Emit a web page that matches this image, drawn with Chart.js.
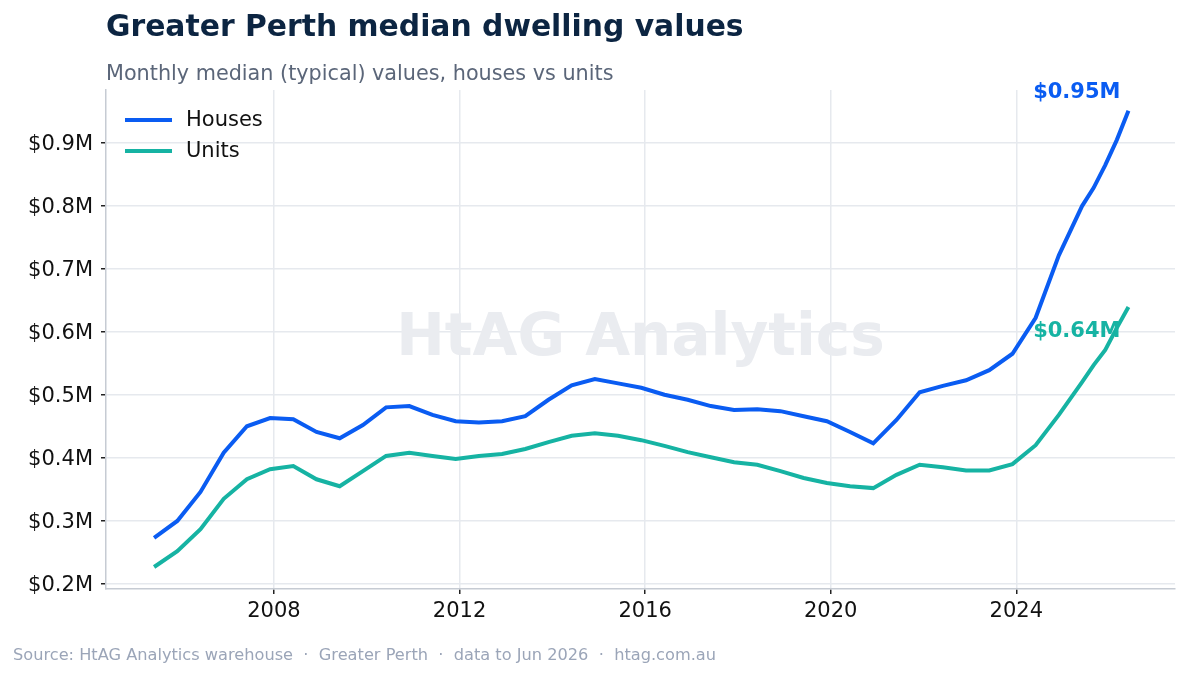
<!DOCTYPE html>
<html>
<head>
<meta charset="utf-8">
<title>Greater Perth median dwelling values</title>
<script src="https://cdn.jsdelivr.net/npm/chart.js@4.4.1/dist/chart.umd.min.js"></script>
<style>
  body { margin: 0; background: #fff; font-family: 'DejaVu Sans', sans-serif; }
  #wrap { position: relative; width: 1189px; height: 676px; overflow: hidden; }
  #chart { position: absolute; left: 0; top: 0; }
  .title { position: absolute; left: 106px; top: 10px; font-size: 29.8px; line-height: 32px; font-weight: bold; color: #0c2542; white-space: nowrap; }
  .subtitle { position: absolute; left: 106px; top: 61px; font-size: 20.75px; line-height: 24px; color: #5b6679; white-space: nowrap; }
  .footer { position: absolute; left: 13px; top: 644px; font-size: 16.2px; line-height: 21px; color: #9ba5b8; white-space: pre; }
</style>
</head>
<body>
<div id="wrap">
  <canvas id="chart" width="1189" height="676"></canvas>
  <div class="title">Greater Perth median dwelling values</div>
  <div class="subtitle">Monthly median (typical) values, houses vs units</div>
  <div class="footer">Source: HtAG Analytics warehouse  ·  Greater Perth  ·  data to Jun 2026  ·  htag.com.au</div>
</div>
<script>
// sample months (YYYY-MM)
const months = [
  '2005-06', '2005-12', '2006-06', '2006-12', '2007-06', '2007-12', '2008-06', '2008-12',
  '2009-06', '2009-12', '2010-06', '2010-12', '2011-06', '2011-12', '2012-06', '2012-12',
  '2013-06', '2013-12', '2014-06', '2014-12', '2015-06', '2015-12', '2016-06', '2016-12',
  '2017-06', '2017-12', '2018-06', '2018-12', '2019-06', '2019-12', '2020-06', '2020-12',
  '2021-06', '2021-12', '2022-06', '2022-12', '2023-06', '2023-12', '2024-06', '2024-12',
  '2025-06', '2025-09', '2025-12', '2026-03', '2026-06'
];

// median values, $M
const houses = [
  0.273, 0.300, 0.346, 0.408, 0.450, 0.463, 0.461, 0.441,
  0.431, 0.452, 0.480, 0.482, 0.468, 0.458, 0.456, 0.458,
  0.466, 0.492, 0.515, 0.525, 0.518, 0.511, 0.500, 0.492,
  0.482, 0.476, 0.477, 0.474, 0.466, 0.458, 0.441, 0.423,
  0.460, 0.504, 0.514, 0.523, 0.539, 0.565, 0.622, 0.721,
  0.799, 0.828, 0.864, 0.904, 0.950
];
const units = [
  0.227, 0.252, 0.287, 0.335, 0.366, 0.382, 0.387, 0.366,
  0.355, 0.379, 0.403, 0.408, 0.403, 0.398, 0.403, 0.406,
  0.414, 0.425, 0.435, 0.439, 0.435, 0.428, 0.419, 0.409,
  0.401, 0.393, 0.389, 0.379, 0.368, 0.360, 0.355, 0.352,
  0.373, 0.389, 0.385, 0.380, 0.380, 0.390, 0.420, 0.468,
  0.520, 0.547, 0.571, 0.606, 0.639
];

const xTicks = [2008, 2012, 2016, 2020, 2024];
const yTicks = [0.2, 0.3, 0.4, 0.5, 0.6, 0.7, 0.8, 0.9];

const HOUSE_COLOR = '#0a5cf2';
const UNIT_COLOR = '#16b3a3';

function toYear(m) {
    const [y, mo] = m.split('-').map(Number);
    return y + (mo - 1) / 12;
}
const points = vals => vals.map((v, i) => ({ x: toYear(months[i]), y: v }));

// watermark, legend and end labels
const decor = {
    id: 'decor',
    beforeDatasetsDraw(chart) {
        const { ctx, chartArea: a } = chart;
        ctx.save();
        ctx.font = 'bold 58px "DejaVu Sans"';
        ctx.fillStyle = '#eaecf0';
        ctx.textAlign = 'center';
        ctx.textBaseline = 'middle';
        ctx.fillText('HtAG Analytics', (a.left + a.right) / 2, (a.top + a.bottom) / 2);
        ctx.restore();
    },
    afterDatasetsDraw(chart) {
        const { ctx, chartArea: a } = chart;
        ctx.save();
        // legend
        ctx.font = '21px "DejaVu Sans"';
        ctx.textBaseline = 'middle';
        chart.data.datasets.forEach((ds, i) => {
            const y = a.top + 30 + i * 31;
            ctx.strokeStyle = ds.borderColor;
            ctx.lineWidth = 4;
            ctx.beginPath();
            ctx.moveTo(a.left + 19, y);
            ctx.lineTo(a.left + 66, y);
            ctx.stroke();
            ctx.fillStyle = '#111';
            ctx.fillText(ds.label, a.left + 80, y + 1);
        });
        // end value labels
        ctx.font = 'bold 21px "DejaVu Sans"';
        ctx.textAlign = 'right';
        chart.data.datasets.forEach((ds, i) => {
            const meta = chart.getDatasetMeta(i);
            const last = meta.data[meta.data.length - 1];
            const v = ds.data[ds.data.length - 1].y;
            ctx.fillStyle = ds.borderColor;
            const dy = i === 0 ? -18 : 25;
            ctx.fillText('$' + v.toFixed(2) + 'M', last.x - 8, last.y + dy);
        });
        ctx.restore();
    }
};

const ctx = document.getElementById('chart').getContext('2d');
const chart = new Chart(ctx, {
    type: 'line',
    data: {
        datasets: [{
            label: 'Houses',
            data: points(houses),
            borderColor: HOUSE_COLOR,
            backgroundColor: HOUSE_COLOR,
            borderWidth: 4,
            pointRadius: 0,
            tension: 0
        }, {
            label: 'Units',
            data: points(units),
            borderColor: UNIT_COLOR,
            backgroundColor: UNIT_COLOR,
            borderWidth: 4,
            pointRadius: 0,
            tension: 0
        }]
    },
    options: {
        responsive: false,
        animation: false,
        devicePixelRatio: 1,
        layout: { padding: { top: 90, right: 14, bottom: 47, left: 0 } },
        plugins: {
            legend: { display: false },
            tooltip: { enabled: false }
        },
        scales: {
            x: {
                type: 'linear',
                min: 2004.38,
                max: 2027.42,
                afterBuildTicks: s => { s.ticks = xTicks.map(v => ({ value: v })); },
                afterFit: s => { s.height = 40; },
                grid: { color: '#e6e9ee', lineWidth: 1.5, tickColor: '#222', tickLength: 5 },
                border: { color: '#c6cbd3', width: 1.5 },
                ticks: { color: '#111', font: { size: 21, family: 'DejaVu Sans' }, padding: 5, maxRotation: 0,
                         callback: v => String(v) }
            },
            y: {
                min: 0.1921,
                max: 0.983,
                afterBuildTicks: s => { s.ticks = yTicks.map(v => ({ value: v })); },
                afterFit: s => { s.width = 106; },
                grid: { color: '#e6e9ee', lineWidth: 1.5, tickColor: '#222', tickLength: 5 },
                border: { color: '#c6cbd3', width: 1.5 },
                ticks: { color: '#111', font: { size: 21, family: 'DejaVu Sans' }, padding: 8, labelOffset: 2,
                         callback: v => '$' + v.toFixed(1) + 'M' }
            }
        }
    },
    plugins: [decor]
});
</script>
</body>
</html>
